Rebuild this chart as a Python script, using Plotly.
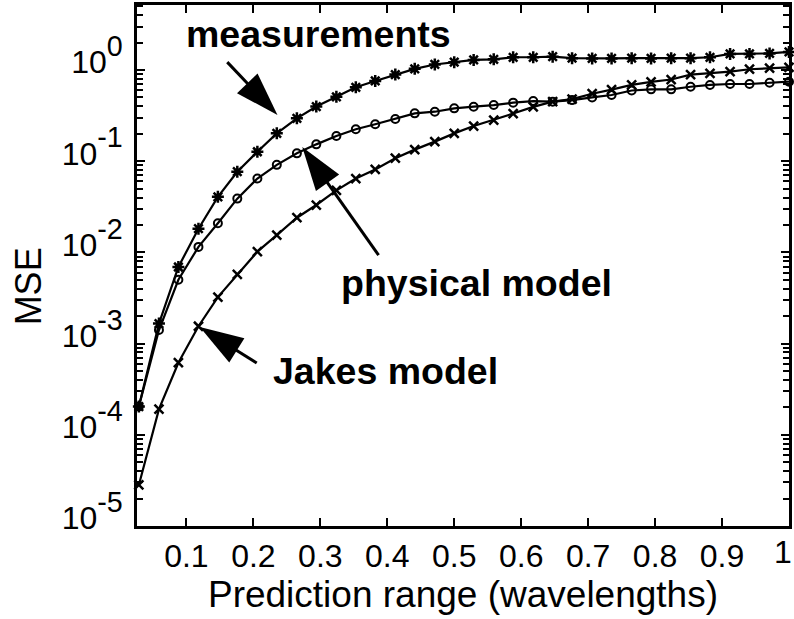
import plotly.graph_objects as go

# ---------------- data ----------------
pred_range = [0.029, 0.059, 0.088, 0.118, 0.147, 0.176, 0.206, 0.235, 0.265, 0.294,
              0.324, 0.353, 0.382, 0.412, 0.441, 0.471, 0.500, 0.529, 0.559, 0.588,
              0.618, 0.647, 0.676, 0.706, 0.735, 0.765, 0.794, 0.824, 0.853, 0.882,
              0.912, 0.941, 0.971, 1.000]

mse_measurements = [2.04e-4, 1.66e-3, 6.92e-3, 1.82e-2, 4.07e-2, 7.67e-2, 0.127, 0.202, 0.295, 0.398,
                    0.509, 0.646, 0.759, 0.891, 1.03, 1.15, 1.22, 1.29, 1.31, 1.38,
                    1.38, 1.40, 1.35, 1.34, 1.34, 1.35, 1.34, 1.35, 1.35, 1.38,
                    1.50, 1.50, 1.52, 1.58]

mse_physical = [2.04e-4, 1.41e-3, 5.01e-3, 1.15e-2, 2.09e-2, 3.89e-2, 6.46e-2, 9.12e-2, 0.122, 0.153,
                0.189, 0.224, 0.254, 0.290, 0.335, 0.349, 0.380, 0.396, 0.413, 0.439,
                0.457, 0.450, 0.468, 0.501, 0.532, 0.596, 0.614, 0.614, 0.656, 0.686,
                0.703, 0.703, 0.726, 0.745]

mse_jakes = [2.82e-5, 1.91e-4, 6.17e-4, 1.55e-3, 3.24e-3, 5.75e-3, 1.02e-2, 1.55e-2, 2.40e-2, 3.31e-2,
             4.79e-2, 6.46e-2, 8.13e-2, 0.108, 0.134, 0.164, 0.202, 0.243, 0.283, 0.333,
             0.394, 0.450, 0.479, 0.550, 0.610, 0.686, 0.741, 0.787, 0.891, 0.920,
             0.959, 1.02, 1.05, 1.07]

x_tick_vals = [0.1, 0.2, 0.3, 0.4, 0.5, 0.6, 0.7, 0.8, 0.9, 1.0]
x_tick_text = ["0.1", "0.2", "0.3", "0.4", "0.5", "0.6", "0.7", "0.8", "0.9", ""]
x_last_label = "1"
y_tick_vals = [1e-5, 1e-4, 1e-3, 1e-2, 1e-1, 1e0]
y_exponents = ["-5", "-4", "-3", "-2", "-1", "0"]
y_tick_text = ['<span style="font-size:32px">10</span><sup>%s</sup>' % e for e in y_exponents]
y_decades = [-5, -4, -3, -2, -1, 0]
y_minor_vals = [m * 10.0 ** d for d in y_decades for m in range(2, 10)]

# annotation labels: (text, x, log10 y)
labels = [("measurements", 0.298, 0.40),
          ("physical model", 0.534, -2.33),
          ("Jakes model", 0.397, -3.30)]
# arrows: (tail x, tail y, tip x, tip y)
arrows = [(0.161, 1.22, 0.236, 0.321),
          (0.387, 9.35e-3, 0.273, 0.143),
          (0.205, 6.12e-4, 0.120, 1.52e-3)]

FONT = "Liberation Sans, Arial, Helvetica, sans-serif"
fig = go.Figure()

fig.add_trace(go.Scatter(x=pred_range, y=mse_measurements, mode="lines+markers",
                         line=dict(color="black", width=2.2), cliponaxis=False,
                         marker=dict(symbol="asterisk-open", size=10, color="black",
                                     line=dict(color="black", width=2.5))))
fig.add_trace(go.Scatter(x=pred_range, y=mse_physical, mode="lines+markers",
                         line=dict(color="black", width=2.2), cliponaxis=False,
                         marker=dict(symbol="circle-open", size=8, color="black",
                                     line=dict(color="black", width=2))))
fig.add_trace(go.Scatter(x=pred_range, y=mse_jakes, mode="lines+markers",
                         line=dict(color="black", width=2.2), cliponaxis=False,
                         marker=dict(symbol="x-thin-open", size=9, color="black",
                                     line=dict(color="black", width=2.5))))

for tx, ty, hx, hy in arrows:
    fig.add_trace(go.Scatter(x=[tx, hx], y=[ty, hy], mode="lines+markers",
                             line=dict(color="black", width=3), cliponaxis=False,
                             marker=dict(symbol=["circle", "arrow"], size=[0, 46],
                                         angleref="previous", color="black", opacity=1,
                                         line=dict(width=0))))

for text, lx, ly in labels:
    fig.add_annotation(x=lx, y=ly, xref="x", yref="y", text="<b>%s</b>" % text,
                       showarrow=False, font=dict(family=FONT, size=37.5, color="black"))

# last x tick label, kept inside the page
fig.add_annotation(x=1.0, y=-0.05, xref="x", yref="paper", text=x_last_label,
                   showarrow=False, xanchor="center", yanchor="middle", xshift=-6,
                   font=dict(family=FONT, size=32, color="black"))
# y axis title
fig.add_annotation(x=-0.1664, y=0.459, xref="paper", yref="paper", text="MSE",
                   textangle=-90, showarrow=False, xanchor="center", yanchor="middle",
                   font=dict(family=FONT, size=36, color="black"))

fig.update_layout(
    width=794, height=619, showlegend=False,
    paper_bgcolor="white", plot_bgcolor="white",
    margin=dict(l=137, r=2, t=5, b=93),
    font=dict(family=FONT, color="black"),
)
fig.update_xaxes(range=[0.0262, 1.0], tickmode="array", tickvals=x_tick_vals,
                 ticktext=x_tick_text, ticks="inside", ticklen=8, tickwidth=2,
                 tickcolor="black", showline=True, linewidth=3, linecolor="black",
                 mirror="ticks", showgrid=False, zeroline=False,
                 tickfont=dict(size=32, family=FONT),
                 title=dict(text="Prediction range (wavelengths)",
                            font=dict(size=37, family=FONT), standoff=4))
fig.update_yaxes(type="log", range=[-5, 0.713], tickmode="array", tickvals=y_tick_vals,
                 ticktext=y_tick_text, ticks="inside", ticklen=8, tickwidth=2,
                 tickcolor="black", showline=True, linewidth=3, linecolor="black",
                 mirror="ticks", showgrid=False, zeroline=False,
                 ticklabelshift=-11, ticklabelstandoff=3,
                 minor=dict(ticks="inside", ticklen=6, tickwidth=1.5, tickcolor="black",
                            tickmode="array", tickvals=y_minor_vals, showgrid=False),
                 tickfont=dict(size=41, family=FONT))

fig.write_html("out.html")
